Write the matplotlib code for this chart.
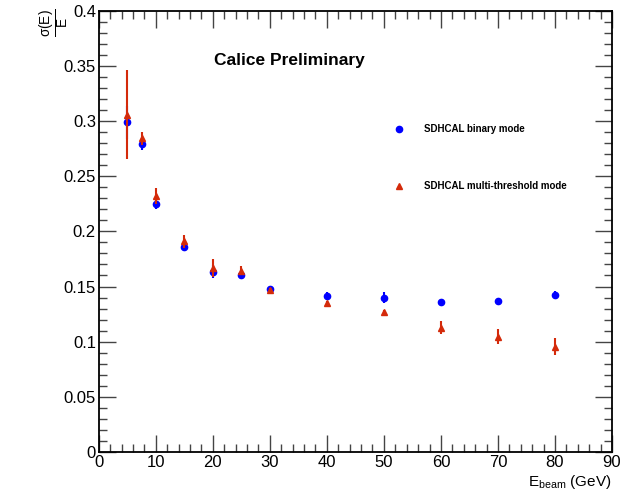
import matplotlib
matplotlib.use('Agg')
import matplotlib.pyplot as plt
from matplotlib.ticker import MultipleLocator

# beam energies (GeV)
energy = [5, 7.5, 10, 15, 20, 25, 30, 40, 50, 60, 70, 80]

# relative resolution, binary readout
res_binary = [0.299, 0.279, 0.2245, 0.186, 0.1636, 0.160, 0.148, 0.1418, 0.140, 0.1355, 0.137, 0.1427]
err_binary = [0.015, 0.005, 0.004, 0.003, 0.006, 0.003, 0.002, 0.003, 0.005, 0.003, 0.002, 0.003]

# relative resolution, multi-threshold readout
res_multi = [0.306, 0.2845, 0.232, 0.191, 0.167, 0.1645, 0.147, 0.135, 0.127, 0.1127, 0.1045, 0.0955]
err_multi = [0.040, 0.006, 0.007, 0.006, 0.008, 0.004, 0.002, 0.002, 0.002, 0.006, 0.007, 0.008]

plt.rcParams['font.family'] = ['Liberation Sans', 'DejaVu Sans']

fig = plt.figure(figsize=(6.21, 4.96), dpi=100)
ax = fig.add_axes([0.159, 0.089, 0.8265, 0.889])

ax.errorbar(energy, res_binary, yerr=err_binary, fmt='o', color='#0000ff',
            markersize=4.5, elinewidth=1.5, capsize=0, zorder=3)
ax.errorbar(energy, res_multi, yerr=err_multi, fmt='^', color='#d42a0a',
            markersize=4.5, elinewidth=1.5, capsize=0, zorder=4)

ax.set_xlim(0, 90)
ax.set_ylim(0, 0.4)
ax.xaxis.set_major_locator(MultipleLocator(10))
ax.xaxis.set_minor_locator(MultipleLocator(2))
ax.yaxis.set_minor_locator(MultipleLocator(0.01))
ax.set_yticks([0, 0.05, 0.1, 0.15, 0.2, 0.25, 0.3, 0.35, 0.4])
ax.set_yticklabels(['0', '0.05', '0.1', '0.15', '0.2', '0.25', '0.3', '0.35', '0.4'])

ax.tick_params(which='both', direction='in', top=True, right=True,
               labelsize=12, width=1, color='#444444')
ax.tick_params(which='major', length=12, pad=2)
ax.tick_params(which='minor', length=6)
for s in ax.spines.values():
    s.set_linewidth(1.3)

# legend entries placed by hand, as in the original
ax.plot([52.7], [0.2925], 'o', color='#0000ff', markersize=4.5)
ax.plot([52.7], [0.2415], '^', color='#d42a0a', markersize=4.5)
ax.text(57, 0.2925, 'SDHCAL binary mode', fontsize=7, fontweight='bold',
        va='center', ha='left')
ax.text(57, 0.2415, 'SDHCAL multi-threshold mode', fontsize=7, fontweight='bold',
        va='center', ha='left')

ax.text(20.2, 0.355, 'Calice Preliminary', fontsize=12.5, fontweight='bold',
        va='center', ha='left')

fig.text(0.088, 0.955, r'$\frac{\mathregular{\sigma(E)}}{\mathregular{E}}$',
         rotation=90, fontsize=14, ha='center', va='center')
fig.text(0.985, 0.01, r'E$_{\mathregular{beam}}$ (GeV)', fontsize=11,
         ha='right', va='bottom')

fig.savefig('out.png', dpi=100)
